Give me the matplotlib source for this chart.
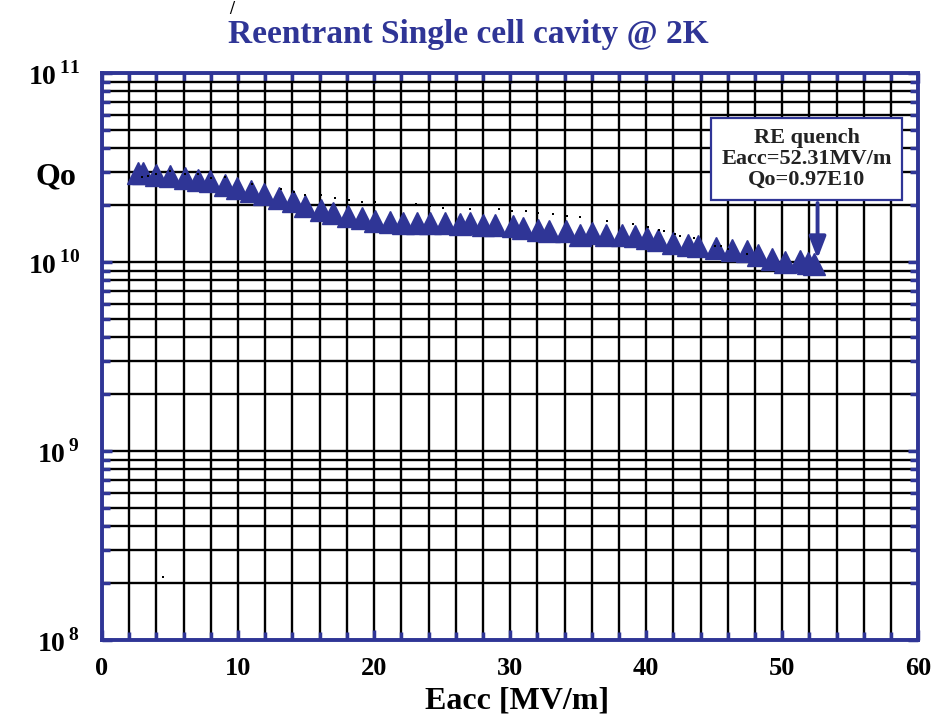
import numpy as np
import matplotlib
matplotlib.use('Agg')
import matplotlib.pyplot as plt
from matplotlib.ticker import LogLocator, MultipleLocator, FuncFormatter, NullFormatter

plt.rcParams['font.family'] = 'Liberation Serif'
plt.rcParams['font.weight'] = 'bold'
plt.rcParams['mathtext.fontset'] = 'custom'
plt.rcParams['mathtext.rm'] = 'Liberation Serif:bold'
plt.rcParams['mathtext.bf'] = 'Liberation Serif:bold'

blue = '#2f3596'

# measured Qo vs Eacc (triangles)
eacc = [2.65, 3.0, 4.0, 5.0, 6.1, 7.06, 7.94, 9.04, 9.93, 10.96, 11.91, 13.01, 14.04,
        14.93, 16.1, 16.99, 18.09, 19.12, 20.07, 21.18, 22.13, 23.16, 24.12, 25.22, 26.32,
        27.06, 28.01, 28.9, 30.22, 30.96, 32.06, 32.87, 34.12, 35.15, 36.03, 37.06, 38.24,
        39.19, 40.07, 40.88, 41.99, 43.09, 43.82, 45.15, 46.32, 47.43, 48.24, 49.26, 50.22,
        51.32, 51.91, 52.31]
qo = [2.96e10, 2.96e10, 2.89e10, 2.85e10, 2.78e10, 2.72e10, 2.68e10, 2.55e10, 2.46e10,
      2.37e10, 2.29e10, 2.18e10, 2.10e10, 1.98e10, 1.88e10, 1.82e10, 1.75e10, 1.71e10,
      1.65e10, 1.63e10, 1.61e10, 1.61e10, 1.61e10, 1.61e10, 1.59e10, 1.61e10, 1.57e10,
      1.57e10, 1.55e10, 1.51e10, 1.48e10, 1.46e10, 1.46e10, 1.39e10, 1.42e10, 1.39e10,
      1.39e10, 1.37e10, 1.34e10, 1.31e10, 1.26e10, 1.23e10, 1.22e10, 1.19e10, 1.16e10,
      1.14e10, 1.09e10, 1.04e10, 1.00e10, 1.01e10, 0.99e10, 0.97e10]

# small dotted series
eacc_dot = [2.92, 3.38, 3.97, 5.0, 6.1, 7.06, 8.01, 9.04, 11.03, 13.16, 14.12, 14.93, 16.1,
            17.13, 18.16, 19.12, 20.07, 22.13, 23.09, 24.12, 25.07, 27.06, 28.01, 29.19,
            30.15, 31.18, 32.06, 33.16, 34.19, 35.15, 36.03, 37.13, 38.01, 39.04, 40.15,
            40.96, 41.32, 42.13, 42.5, 43.53, 45.07, 45.51, 46.03, 47.43, 4.5]
qo_dot = [2.81e10, 2.85e10, 2.92e10, 3.03e10, 2.92e10, 2.92e10, 2.78e10, 2.82e10, 2.59e10,
          2.43e10, 2.35e10, 2.26e10, 2.26e10, 2.18e10, 2.13e10, 2.08e10, 2.08e10, 2.00e10,
          2.03e10, 1.98e10, 1.93e10, 1.91e10, 1.91e10, 1.91e10, 1.86e10, 1.86e10, 1.82e10,
          1.79e10, 1.75e10, 1.73e10, 1.69e10, 1.65e10, 1.63e10, 1.59e10, 1.53e10, 1.48e10,
          1.46e10, 1.41e10, 1.37e10, 1.34e10, 1.22e10, 1.22e10, 1.17e10, 1.10e10, 2.15e8]

fig = plt.figure(figsize=(9.36, 7.22), dpi=100)
ax = fig.add_axes([0.109, 0.1136, 0.872, 0.7854])

ax.plot(eacc, qo, linestyle='none', marker='^', ms=16, color=blue, mec=blue, zorder=3)
ax.plot(eacc_dot, qo_dot, linestyle='none', marker='s', ms=1.6, color='black', mew=0, zorder=4)

ax.set_yscale('log')
ax.set_xlim(0, 60)
ax.set_ylim(1e8, 1e11)

ax.xaxis.set_major_locator(MultipleLocator(10))
ax.xaxis.set_minor_locator(MultipleLocator(2))
ax.yaxis.set_major_locator(LogLocator(base=10))
ax.yaxis.set_minor_locator(LogLocator(base=10, subs=np.arange(2, 10)))
ax.yaxis.set_minor_formatter(NullFormatter())
ax.yaxis.set_major_formatter(FuncFormatter(lambda v, p: r'$10^{\,%d}$' % round(np.log10(v))))

ax.grid(True, which='both', color='black', linewidth=1.7)
ax.set_axisbelow(True)

ax.tick_params(which='both', direction='in', color=blue, width=2.5, top=True, right=True)
ax.tick_params(axis='x', labelsize=19, pad=12)
ax.tick_params(axis='y', labelsize=20, pad=16)
ax.tick_params(which='major', length=7)
ax.tick_params(which='minor', length=6)
for lab in ax.get_xticklabels() + ax.get_yticklabels():
    lab.set_fontweight('bold')

for s in ax.spines.values():
    s.set_color(blue)
    s.set_linewidth(2.8)

ax.set_xlabel('Eacc [MV/m]', fontsize=23, fontweight='bold', va='center')
ax.xaxis.set_label_coords(0.508, -0.108)
ax.set_ylabel('Qo', fontsize=23, fontweight='bold', rotation=0, ha='center', va='center')
ax.yaxis.set_label_coords(-0.056, 0.817)

fig.text(0.5, 0.952, 'Reentrant Single cell cavity @ 2K', color=blue, fontsize=24,
         fontweight='bold', ha='center', va='center')
fig.text(0.248, 0.998, '/', color='black', fontsize=13, ha='center', va='top')

# annotation box and arrow
ax.text(51.8, 3.5e10, 'RE quench\nEacc=52.31MV/m\nQo=0.97E10', ha='center', va='center',
        fontsize=16, fontweight='bold', color='#222222', linespacing=1.05,
        bbox=dict(boxstyle='square,pad=0.45', fc='white', ec=blue, lw=1.6), zorder=5)
ax.annotate('', xy=(52.6, 1.04e10), xytext=(52.6, 2.05e10),
            arrowprops=dict(arrowstyle='-|>,head_width=0.5,head_length=1.3', color=blue,
                            lw=2.8, shrinkA=0, shrinkB=0), zorder=5)

fig.savefig('out.png', dpi=100)
